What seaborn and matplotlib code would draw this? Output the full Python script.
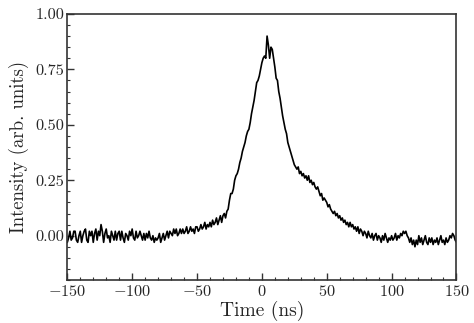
import matplotlib
matplotlib.use("Agg")
import matplotlib.pyplot as plt
from matplotlib.ticker import MultipleLocator
import seaborn as sns
import pandas as pd

# Sampled time axis (ns), one sample per ns
time_ns = list(range(-150, 151))

# Normalised detector signal, ten samples per row
intensity = [
    -0.03, -0.01, 0.02, -0.02, -0.01, 0.02, 0.02, -0.02, -0.03, 0.00,   # -150
    0.02, -0.03, 0.00, 0.02, 0.03, -0.02, -0.03, 0.02, 0.00, 0.02,      # -140
    -0.03, 0.01, 0.03, -0.02, 0.02, 0.00, 0.05, 0.02, -0.03, 0.01,      # -130
    0.03, -0.01, 0.00, -0.03, 0.02, 0.00, -0.02, 0.02, -0.02, 0.01,     # -120
    0.02, -0.02, 0.02, -0.01, -0.03, 0.01, 0.00, -0.02, 0.02, 0.00,     # -110
    0.03, -0.01, -0.02, 0.02, -0.01, 0.00, 0.02, 0.00, -0.02, 0.01,     # -100
    -0.02, 0.01, -0.01, 0.02, -0.01, -0.02, 0.00, -0.03, -0.01, -0.02,  # -90
    -0.01, 0.01, -0.03, -0.01, 0.01, -0.02, 0.00, 0.02, -0.01, 0.02,    # -80
    0.01, 0.00, 0.03, 0.01, 0.03, 0.00, 0.01, 0.03, 0.01, 0.03,         # -70
    0.01, 0.02, 0.04, 0.01, 0.02, 0.04, 0.02, 0.03, 0.01, 0.04,         # -60
    0.04, 0.02, 0.03, 0.05, 0.03, 0.04, 0.06, 0.03, 0.05, 0.04,         # -50
    0.06, 0.04, 0.07, 0.05, 0.06, 0.08, 0.05, 0.07, 0.09, 0.06,         # -40
    0.09, 0.10, 0.08, 0.11, 0.12, 0.16, 0.19, 0.19, 0.21, 0.25,         # -30
    0.27, 0.28, 0.30, 0.33, 0.35, 0.38, 0.40, 0.42, 0.45, 0.47,         # -20
    0.48, 0.51, 0.55, 0.58, 0.61, 0.65, 0.69, 0.70, 0.72, 0.75,         # -10
    0.78, 0.80, 0.81, 0.80, 0.90, 0.86, 0.80, 0.85, 0.84, 0.80,         # 0
    0.76, 0.71, 0.70, 0.65, 0.62, 0.58, 0.54, 0.51, 0.48, 0.46,         # 10
    0.42, 0.40, 0.38, 0.36, 0.34, 0.32, 0.31, 0.30, 0.31, 0.28,         # 20
    0.29, 0.27, 0.28, 0.26, 0.27, 0.25, 0.27, 0.24, 0.25, 0.23,         # 30
    0.24, 0.22, 0.21, 0.22, 0.20, 0.18, 0.19, 0.16, 0.17, 0.16,         # 40
    0.15, 0.13, 0.14, 0.12, 0.11, 0.10, 0.11, 0.09, 0.10, 0.08,         # 50
    0.09, 0.07, 0.08, 0.06, 0.07, 0.05, 0.06, 0.04, 0.06, 0.04,         # 60
    0.05, 0.03, 0.04, 0.02, 0.04, 0.01, 0.03, 0.02, 0.00, 0.02,         # 70
    0.01, -0.01, 0.02, 0.00, -0.01, 0.01, -0.02, 0.00, 0.01, -0.02,     # 80
    0.00, -0.01, -0.03, 0.00, -0.02, 0.01, -0.01, -0.03, -0.01, -0.02,  # 90
    0.00, -0.02, -0.01, 0.01, -0.02, 0.00, -0.01, 0.01, 0.00, 0.02,     # 100
    0.01, 0.02, 0.00, -0.01, -0.03, -0.01, -0.04, -0.02, -0.05, -0.02,  # 110
    -0.04, 0.00, -0.03, -0.01, -0.04, -0.02, 0.00, -0.03, -0.04, -0.01, # 120
    -0.03, -0.01, -0.04, -0.02, -0.03, -0.01, -0.04, -0.02, 0.00, -0.03,# 130
    -0.02, -0.04, -0.01, -0.03, -0.02, 0.00, -0.01, 0.01, 0.00, -0.02,  # 140
    -0.03,                                                               # 150
]

x_ticks = [-150, -100, -50, 0, 50, 100, 150]
y_ticks = [0.00, 0.25, 0.50, 0.75, 1.00]

df = pd.DataFrame({"time": time_ns, "intensity": intensity})

sns.set_theme(style="white")
plt.rcParams["font.family"] = ["cmr10"]
plt.rcParams["mathtext.fontset"] = "cm"
plt.rcParams["axes.formatter.use_mathtext"] = True

fig = plt.figure(figsize=(4.74, 3.23), dpi=100)
ax = fig.add_axes([0.142, 0.133, 0.821, 0.824])

sns.lineplot(data=df, x="time", y="intensity", ax=ax, color="black", linewidth=1.2)

ax.set_xlim(-150, 150)
ax.set_ylim(-0.2, 1.0)
ax.set_xticks(x_ticks)
ax.set_yticks(y_ticks)
ax.set_yticklabels([f"{v:.2f}" for v in y_ticks])
ax.xaxis.set_minor_locator(MultipleLocator(10))
ax.yaxis.set_minor_locator(MultipleLocator(0.05))

ax.tick_params(which="both", direction="in", top=False, right=False,
               bottom=True, left=True, color="#333333", labelsize=11.7)
ax.tick_params(which="major", length=5, width=1.0)
ax.tick_params(which="minor", length=2.5, width=0.8)
ax.tick_params(axis="y", pad=2)
ax.tick_params(axis="x", pad=3)

for s in ax.spines.values():
    s.set_color("#333333")
    s.set_linewidth(1.2)

ax.set_xlabel("Time (ns)", fontsize=14, labelpad=1)
ax.set_ylabel("Intensity (arb. units)", fontsize=13.5, labelpad=5)

fig.savefig("out.png", dpi=100, facecolor="white")
